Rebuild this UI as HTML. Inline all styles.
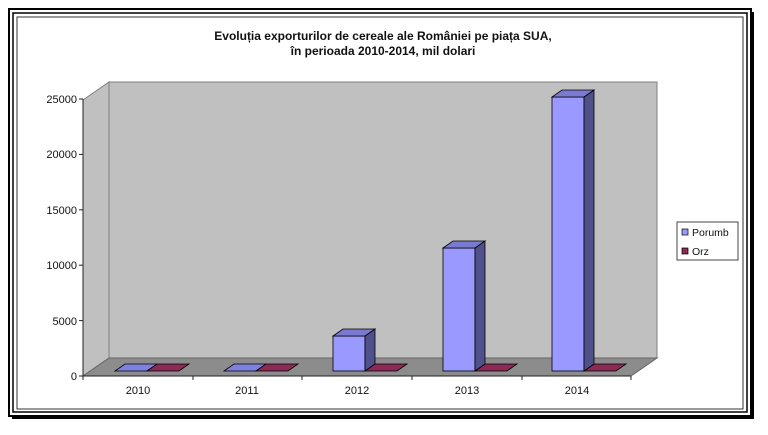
<!DOCTYPE html>
<html><head><meta charset="utf-8"><style>
html,body{margin:0;padding:0;background:#fff;width:768px;height:435px;overflow:hidden}
svg{display:block}
text{font-family:"Liberation Sans",Arial,sans-serif;fill:#111}
</style></head><body>
<svg width="768" height="435" viewBox="0 0 768 435">
<!-- frame -->
<rect x="12" y="12" width="742" height="407" fill="#000"/>
<rect x="9" y="9" width="742" height="407" fill="#fff" stroke="#000" stroke-width="2"/>
<rect x="13" y="13" width="734" height="399" fill="none" stroke="#000" stroke-width="1.5"/>
<rect x="17" y="17" width="726" height="392" fill="#fff" stroke="#333" stroke-width="1"/>
<!-- title -->
<text x="383" y="40" font-size="12" font-weight="bold" text-anchor="middle">Evoluția exporturilor de cereale ale României pe piața SUA,</text>
<text x="383" y="55" font-size="12" font-weight="bold" text-anchor="middle">în perioada 2010-2014, mil dolari</text>
<!-- walls -->
<polygon points="83,376 109,358 109,82 83,100" fill="#c0c0c0" stroke="#808080" stroke-width="1"/>
<polygon points="109,82 657,82 657,358 109,358" fill="#c0c0c0" stroke="#808080" stroke-width="1"/>
<polygon points="83,376 631,376 657,358 109,358" fill="#8c8c8c" stroke="#666" stroke-width="1"/>
<!-- axis -->
<line x1="83" y1="99" x2="83" y2="376" stroke="#222"/>
<line x1="83" y1="376" x2="631" y2="376" stroke="#222"/>
<g stroke="#222">
<line x1="79" y1="376" x2="83" y2="376"/><line x1="79" y1="320.6" x2="83" y2="320.6"/>
<line x1="79" y1="265.2" x2="83" y2="265.2"/><line x1="79" y1="209.8" x2="83" y2="209.8"/>
<line x1="79" y1="154.4" x2="83" y2="154.4"/><line x1="79" y1="99" x2="83" y2="99"/>
<line x1="83" y1="376" x2="83" y2="380"/><line x1="193" y1="376" x2="193" y2="380"/>
<line x1="302" y1="376" x2="302" y2="380"/><line x1="412" y1="376" x2="412" y2="380"/>
<line x1="522" y1="376" x2="522" y2="380"/><line x1="631" y1="376" x2="631" y2="380"/>
</g>
<g font-size="11" text-anchor="end">
<text x="77" y="380">0</text><text x="77" y="325">5000</text><text x="77" y="269">10000</text>
<text x="77" y="214">15000</text><text x="77" y="158">20000</text><text x="77" y="103">25000</text>
</g>
<g font-size="11" text-anchor="middle">
<text x="138" y="394">2010</text><text x="247" y="394">2011</text><text x="357" y="394">2012</text>
<text x="467" y="394">2013</text><text x="577" y="394">2014</text>
</g>
<!-- flat bars -->
<g stroke="#000" stroke-width="0.8">
<polygon points="115,371 147,371 157,364 125,364" fill="#8080e0"/>
<polygon points="147,371 179,371 189,364 157,364" fill="#8a2a55"/>
<polygon points="224,371 256,371 266,364 234,364" fill="#8080e0"/>
<polygon points="256,371 288,371 298,364 266,364" fill="#8a2a55"/>
<polygon points="365,371 397,371 407,364 375,364" fill="#8a2a55"/>
<polygon points="475,371 507,371 517,364 485,364" fill="#8a2a55"/>
<polygon points="584,371 616,371 626,364 594,364" fill="#8a2a55"/>
</g>
<!-- bars -->
<g stroke="#000" stroke-width="0.8">
<rect x="333" y="336" width="32" height="35" fill="#9999ff"/>
<polygon points="365,336 375,329 375,364 365,371" fill="#50508a"/>
<polygon points="333,336 343,329 375,329 365,336" fill="#7a7ad0"/>
<rect x="443" y="248" width="32" height="123" fill="#9999ff"/>
<polygon points="475,248 485,241 485,364 475,371" fill="#50508a"/>
<polygon points="443,248 453,241 485,241 475,248" fill="#7a7ad0"/>
<rect x="552" y="97" width="32" height="274" fill="#9999ff"/>
<polygon points="584,97 594,90 594,364 584,371" fill="#50508a"/>
<polygon points="552,97 562,90 594,90 584,97" fill="#7a7ad0"/>
</g>
<!-- legend -->
<rect x="677" y="222" width="61" height="38" fill="#fff" stroke="#444"/>
<rect x="682" y="229" width="6" height="6" fill="#9999ff" stroke="#000" stroke-width="0.7"/>
<text x="692" y="236" font-size="10.5">Porumb</text>
<rect x="682" y="248" width="6" height="6" fill="#8a2a55" stroke="#000" stroke-width="0.7"/>
<text x="692" y="255" font-size="10.5">Orz</text>
</svg>
</body></html>
